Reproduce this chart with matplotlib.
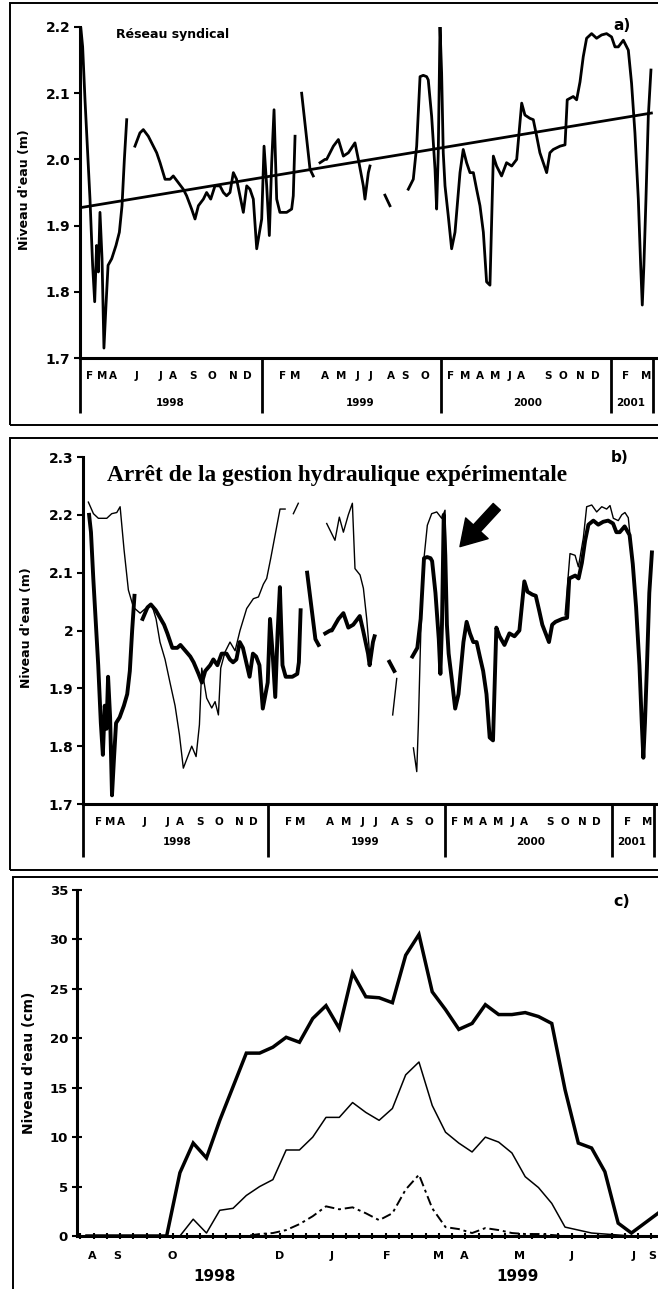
import numpy as np
import matplotlib
matplotlib.use('agg')
import matplotlib.pyplot as plt
from matplotlib.patches import Rectangle

nan = np.nan
plt.rcParams['font.family'] = ['DejaVu Sans']

# --- a) / b) : niveau du réseau syndical (mois depuis janv. 1998)
res_m = [0.05, 0.18, 0.34, 0.50, 0.68, 0.86, 1.00, 1.13, 1.25, 1.36, 1.50, 1.63, 1.77, 1.91, 2.16, 2.45, 2.68, 2.86, 3.02, 3.18, nan,
         3.74, 4.08, 4.31, 4.65, 4.99, 5.22, 5.45, 5.79, 6.13, 6.35, 6.69, 7.03, 7.26, 7.60, 7.83, 8.06, 8.40, 8.62, 8.90, 9.19,
         9.53, 9.76, 9.98, 10.21, 10.44, 10.66, 10.89, 11.12, 11.35, 11.57, 11.80, 12.03, 12.37, 12.53, 12.71, 12.89, 13.05, 13.21,
         13.39, 13.61, 14.07, 14.41, 14.52, 14.64, nan,
         15.09, 15.66, 15.88, nan,
         16.34, 16.68, 16.79, 17.25, 17.59, 17.93, 18.27, 18.72, 18.95, 19.29, 19.40, 19.63, 19.74, nan,
         20.76, 21.10, nan,
         22.35, 22.69, 22.92, 23.15, 23.37, 23.60, 23.71, 23.94, 24.17, 24.28, 24.39, 24.51, 24.62, 24.73, 24.85, 25.07, 25.30,
         25.53, 25.87, 26.09, 26.32, 26.55, 26.78, 27.00, 27.23, 27.46, 27.68, 27.91, 28.14, 28.36, 28.70, 29.04, 29.39, 29.73,
         30.07, 30.29, 30.63, 30.86, 31.09, 31.31, 31.77, 31.99, 32.22, 32.68, 33.02, 33.17, 33.58, 33.81, 34.04, 34.26, 34.49,
         34.83, 35.17, 35.51, 35.85, 36.19, 36.42, 36.65, 36.99, 37.33, 37.55, 37.78, 38.01, 38.17, 38.28, 38.39, 38.53, 38.69, 38.87]
res_v = [2.20, 2.17, 2.09, 2.02, 1.94, 1.84, 1.785, 1.87, 1.83, 1.92, 1.85, 1.715, 1.78, 1.84, 1.85, 1.87, 1.89, 1.93, 2.00, 2.06, nan,
         2.02, 2.04, 2.045, 2.035, 2.02, 2.01, 1.995, 1.97, 1.97, 1.975, 1.965, 1.955, 1.945, 1.925, 1.91, 1.93, 1.94, 1.95, 1.94, 1.96,
         1.96, 1.95, 1.945, 1.95, 1.98, 1.97, 1.945, 1.92, 1.96, 1.955, 1.94, 1.865, 1.91, 2.02, 1.96, 1.885, 1.995, 2.075,
         1.94, 1.92, 1.92, 1.925, 1.945, 2.035, nan,
         2.10, 1.985, 1.975, nan,
         1.995, 2.0, 2.0, 2.02, 2.03, 2.005, 2.01, 2.025, 2.0, 1.96, 1.94, 1.98, 1.99, nan,
         1.946, 1.93, nan,
         1.955, 1.97, 2.02, 2.125, 2.127, 2.125, 2.12, 2.065, 1.985, 1.925, 2.01, 2.2, 2.13, 2.01, 1.96, 1.915, 1.865,
         1.89, 1.98, 2.015, 1.995, 1.98, 1.98, 1.955, 1.93, 1.89, 1.815, 1.81, 2.005, 1.99, 1.975, 1.995, 1.99, 2.0,
         2.085, 2.067, 2.062, 2.06, 2.035, 2.01, 1.98, 2.01, 2.015, 2.02, 2.022, 2.09, 2.095, 2.09, 2.117, 2.155, 2.183,
         2.19, 2.183, 2.188, 2.19, 2.185, 2.17, 2.17, 2.18, 2.165, 2.115, 2.04, 1.94, 1.84, 1.78, 1.84, 1.94, 2.065, 2.135]
trend_m = [0.0, 38.9]
trend_v = [1.927, 2.07]

# b) gestion hydraulique expérimentale
exp_m = [0.00, 0.35, 0.69, 1.27, 1.61, 1.96, 2.19, 2.46, 2.76, 3.11, 3.57, 4.03, 4.37, 4.67, 4.94, 5.29, 5.63, 5.98, 6.28,
         6.55, 6.90, 7.13, 7.43, 7.66, 7.82, 8.16, 8.51, 8.74, 8.97, 9.13, 9.43, 9.77, 10.12, 10.46, 10.92, 11.38, 11.73,
         12.07, 12.30, 12.58, 12.88, 13.22, 13.57, nan,
         14.14, 14.48, nan,
         16.44, 17.01, 17.31, 17.59, 17.93, 18.21, 18.39, 18.74, 18.97, 19.20, 19.43, nan,
         20.99, 21.27, nan,
         22.42, 22.65, 22.76, 22.88, 22.99, 23.15, 23.38, 23.68, 24.03, 24.37, 24.60, 24.73, nan,
         32.88, 33.22, 33.57, 33.80, 34.14, 34.37, 34.72, 35.06, 35.41, 35.75, 35.98, 36.21, 36.55, 36.79, 37.01, 37.24, 37.48, 37.6]
exp_v = [2.222, 2.202, 2.194, 2.194, 2.202, 2.204, 2.214, 2.14, 2.07, 2.04, 2.03, 2.04, 2.045, 2.02, 1.98, 1.95, 1.91, 1.87, 1.82,
         1.762, 1.785, 1.80, 1.782, 1.837, 1.935, 1.883, 1.866, 1.877, 1.854, 1.935, 1.963, 1.98, 1.965, 2.0, 2.038, 2.055, 2.058,
         2.08, 2.09, 2.125, 2.165, 2.21, 2.21, nan,
         2.202, 2.22, nan,
         2.185, 2.156, 2.196, 2.17, 2.2, 2.22, 2.107, 2.096, 2.073, 2.02, 1.95, nan,
         1.854, 1.917, nan,
         1.797, 1.756, 1.837, 1.952, 2.05, 2.125, 2.182, 2.202, 2.205, 2.194, 2.208, 2.01, nan,
         2.027, 2.133, 2.13, 2.11, 2.16, 2.214, 2.217, 2.205, 2.214, 2.21, 2.216, 2.194, 2.19, 2.2, 2.204, 2.195, 2.136, 2.09]

mon_m = [0.68, 1.50, 2.25, 3.88, 5.45, 6.33, 7.69, 8.98, 10.42, 11.37, 13.82, 14.64, 16.68, 17.77, 18.92, 19.81, 21.17, 22.12,
         23.49, 25.26, 26.21, 27.23, 28.25, 29.27, 30.02, 31.86, 32.88, 34.04, 35.06, 37.17, 38.53]
mon_lab = ['F', 'M', 'A', 'J', 'J', 'A', 'S', 'O', 'N', 'D', 'F', 'M', 'A', 'M', 'J', 'J', 'A', 'S', 'O',
           'F', 'M', 'A', 'M', 'J', 'A', 'S', 'O', 'N', 'D', 'F', 'M']
year_m = [6.13, 19.06, 30.5, 37.5]
year_lab = ['1998', '1999', '2000', '2001']
sep_m = [12.39, 24.57, 36.15, 39.0]

# c) hauteur d'eau (cm), relevés hebdomadaires août 1998 - sept. 1999
week = list(range(44))
h_thick = [0, 0, 0, 0, 0, 0, 0, 6.4, 9.4, 7.9, 11.7, 15.1, 18.5, 18.5, 19.1, 20.1, 19.6, 22.0, 23.3, 21.0, 26.6, 24.2,
           24.1, 23.6, 28.4, 30.5, 24.7, 22.9, 20.9, 21.5, 23.4, 22.4, 22.4, 22.6, 22.2, 21.5, 14.8, 9.4, 8.9, 6.5, 1.3,
           0.3, 1.3, 2.3]
h_thin = [0, 0, 0, 0, 0, 0, 0, 0, 1.7, 0.3, 2.6, 2.8, 4.1, 5.0, 5.7, 8.7, 8.7, 10.0, 12.0, 12.0, 13.5, 12.5, 11.7, 12.9,
          16.3, 17.6, 13.2, 10.5, 9.4, 8.5, 10.0, 9.5, 8.4, 6.0, 4.9, 3.3, 0.9, 0.6, 0.3, 0.2, 0.1, 0, 0, 0]
h_dash = [0, 0, 0, 0, 0, 0, 0, 0, 0, 0, 0, 0, 0, 0.2, 0.3, 0.6, 1.2, 2.0, 3.0, 2.7, 2.9, 2.3, 1.6, 2.3, 4.7, 6.2, 2.8,
          0.9, 0.7, 0.3, 0.8, 0.6, 0.3, 0.2, 0.2, 0.1, 0, 0, 0, 0, 0, 0, 0, 0]
c_lab_pos = [0.38, 2.26, 6.39, 14.5, 18.4, 22.6, 26.5, 28.4, 32.6, 36.5, 41.2, 42.6]
c_lab = ['A', 'S', 'O', 'D', 'J', 'F', 'M', 'A', 'M', 'J', 'J', 'S']
c_year_pos = [9.6, 32.4]
c_year = ['1998', '1999']

W, H = 658, 1289
fig = plt.figure(figsize=(W / 100, H / 100), dpi=100)


def rect(l, t, r, b):
    return [l / W, 1 - b / H, (r - l) / W, (b - t) / H]


def frame(t, b, l=10):
    fig.add_artist(Rectangle((l / W, 1 - b / H), (700 - l) / W, (b - t) / H, transform=fig.transFigure,
                             fill=False, lw=1.4, ec='black'))


def style(ax, size=10):
    for s in ['top', 'right']:
        ax.spines[s].set_visible(False)
    ax.spines['left'].set_linewidth(2.2)
    ax.spines['bottom'].set_linewidth(2.2)
    ax.tick_params(axis='y', direction='out', length=4, width=1.5, pad=3, labelsize=size)
    for lab in ax.get_yticklabels():
        lab.set_fontweight('bold')


def band(ax, y_mon, y_year, y_bot):
    tr = ax.get_xaxis_transform()
    ax.set_xticks([])
    for m, s in zip(mon_m, mon_lab):
        ax.text(m, y_mon, s, transform=tr, ha='center', va='center', fontsize=7.5, fontweight='bold')
    for m, s in zip(year_m, year_lab):
        ax.text(m, y_year, s, transform=tr, ha='center', va='center', fontsize=7.5, fontweight='bold')
    for m in [ax.get_xlim()[0]] + sep_m:
        ax.plot([m, m], [0, y_bot], transform=tr, color='k', lw=2.0, clip_on=False, solid_capstyle='butt')


# ---------- a)
frame(3, 425)
ax = fig.add_axes(rect(80, 27, 658, 358))
ax.plot(res_m, res_v, color='k', lw=2.0)
ax.plot(trend_m, trend_v, color='k', lw=2.0)
ax.set_xlim(0, 39.35)
ax.set_ylim(1.7, 2.2)
ax.set_yticks([1.7, 1.8, 1.9, 2.0, 2.1, 2.2], ['1.7', '1.8', '1.9', '2.0', '2.1', '2.2'])
style(ax)
band(ax, -0.054, -0.136, -0.166)
ax.text(2.45, 2.188, 'Réseau syndical', fontsize=9, fontweight='bold', va='center', ha='left')
fig.text(622 / W, 1 - 25 / H, 'a)', fontsize=11, fontweight='bold', ha='center', va='center')
fig.text(25 / W, 1 - 190 / H, "Niveau d'eau (m)", rotation=90, fontsize=9, fontweight='bold',
         ha='center', va='center')

# ---------- b)
frame(438, 870)
ax = fig.add_axes(rect(83, 457, 658, 804))
ax.plot(exp_m, exp_v, color='k', lw=1.0)
ax.plot(res_m, res_v, color='k', lw=2.8)
ax.set_xlim(-0.37, 39.29)
ax.set_ylim(1.7, 2.3)
ax.set_yticks([1.7, 1.8, 1.9, 2.0, 2.1, 2.2, 2.3], ['1.7', '1.8', '1.9', '2', '2.1', '2.2', '2.3'])
style(ax)
band(ax, -0.052, -0.11, -0.153)
ax.annotate('', xy=(25.63, 2.145), xytext=(28.17, 2.214),
            arrowprops=dict(arrowstyle='simple,head_length=0.9,head_width=1.1,tail_width=0.35',
                            fc='black', ec='black', mutation_scale=20, shrinkA=0, shrinkB=0))
fig.text(107 / W, 1 - 481 / H, 'Arrêt de la gestion hydraulique expérimentale', family='Liberation Serif',
         fontsize=16.8, fontweight='bold', ha='left', va='baseline')
fig.text(620 / W, 1 - 458 / H, 'b)', fontsize=11, fontweight='bold', ha='center', va='center')
fig.text(27 / W, 1 - 628 / H, "Niveau d'eau (m)", rotation=90, fontsize=9, fontweight='bold',
         ha='center', va='center')

# ---------- c)
frame(877, 1300, l=13)
ax = fig.add_axes(rect(77, 890, 658, 1236))
ax.plot(week, h_thick, color='k', lw=2.5, solid_joinstyle='miter')
ax.plot(week, h_thin, color='k', lw=1.1)
ax.plot(week, h_dash, color='k', lw=1.4, linestyle=(0, (5, 2, 1.5, 2)))
ax.set_xlim(-0.75, 43.0)
ax.set_ylim(0, 35)
ax.set_yticks(range(0, 36, 5))
style(ax, size=9.5)
ax.tick_params(axis='y', direction='inout', length=7)
ax.set_xticks([w - 0.5 for w in week])
ax.tick_params(axis='x', direction='inout', length=5, width=1.5, labelbottom=False)
tr = ax.get_xaxis_transform()
for p, s in zip(c_lab_pos, c_lab):
    ax.text(p, -0.058, s, transform=tr, ha='center', va='center', fontsize=8, fontweight='bold')
for p, s in zip(c_year_pos, c_year):
    ax.text(p, -0.118, s, transform=tr, ha='center', va='center', fontsize=11, fontweight='bold')
fig.text(622 / W, 1 - 902 / H, 'c)', fontsize=11.5, fontweight='bold', ha='center', va='center')
fig.text(29 / W, 1 - 1063 / H, "Niveau d'eau (cm)", rotation=90, fontsize=10, fontweight='bold',
         ha='center', va='center')

fig.savefig('out.png', dpi=100)
